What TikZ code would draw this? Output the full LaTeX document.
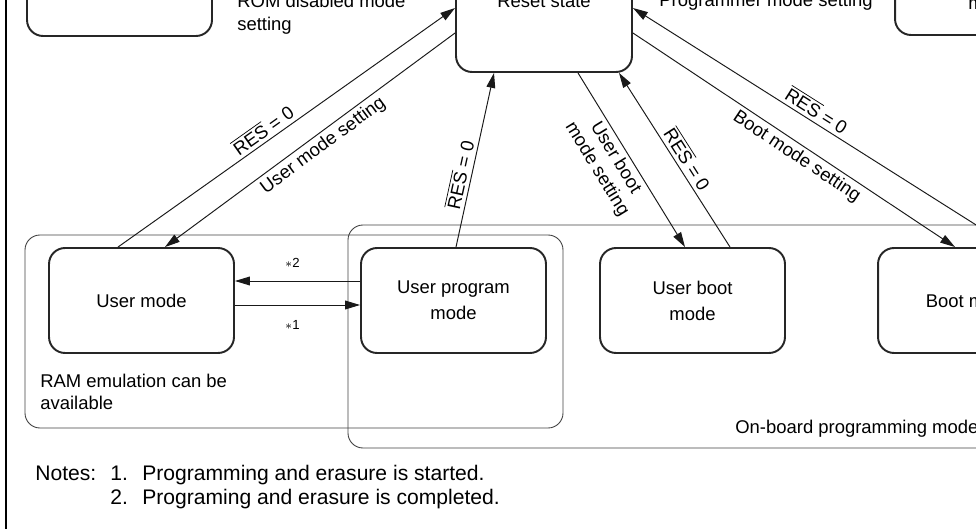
\documentclass[tikz,border=0pt]{standalone}
\usepackage{fontspec}
\setmainfont{Liberation Sans}
\usetikzlibrary{positioning,calc,arrows.meta}

\newcommand{\resz}{$\overline{\mbox{RES}}$ = 0}

\begin{document}
\begin{tikzpicture}[x=0.02cm,y=0.02cm,font=\fontsize{10.5}{12.6}\selectfont]

%--------------------------------------------------
% STYLES
%--------------------------------------------------

\tikzset{
modebox/.style={
draw=black!85,
line width=1.1pt,
rounded corners=0.32cm,
minimum width=3.7cm,
minimum height=2.1cm,
align=center,
inner sep=0pt,
font=\fontsize{10.5}{14.8}\selectfont
},
groupbox/.style={
draw=black!75,
line width=0.5pt,
rounded corners=0.3cm
},
modearrow/.style={
draw=black!90,
line width=0.55pt,
-{Triangle[length=8.5pt,width=5pt]}
},
note/.style={
anchor=base west,
inner sep=0pt
},
notetext/.style={
note,
font=\fontsize{12}{14}\selectfont
},
edgetext/.style={
sloped,
inner sep=2pt
},
startext/.style={
font=\fontsize{7.5}{9}\selectfont
}
}

\useasboundingbox (0,0) rectangle (976,528);
\clip (0,0) rectangle (976,528);

%--------------------------------------------------
% FRAME AND GROUPS
%--------------------------------------------------

\draw[line width=1.7pt] (6,538)--(6,-12);

\draw[groupbox] (25,293) rectangle (563,100);
\draw[groupbox] (348,303) rectangle (1100,80);

%--------------------------------------------------
% MODES
%--------------------------------------------------

\node[modebox] (romdis) at (119.5,544.5) {};
\node[modebox,minimum width=3.52cm] (reset) at (544,508.5) {};
\node[modebox] (progm) at (987.5,545.5) {};

\node[modebox] (umode) at (141.5,227.5) {User mode};
\node[modebox] (upmode) at (453.5,227.5) {User program\\mode};
\node[modebox] (ubmode) at (692.5,227.5) {User boot\\mode};
\node[modebox] (bmode) at (970.5,227.5) {Boot mode};

\node[anchor=base,inner sep=0pt] (resetlbl) at (544,520) {Reset state};
\node[note] (progmlbl) at (968,518) {mode};

%--------------------------------------------------
% TEXTS
%--------------------------------------------------

\node[note] (romtxt) at (237,520) {ROM disabled mode};
\node[note] (romtxtb) at (237,497) {setting};
\node[anchor=base east,inner sep=0pt] (progtxt) at (873,521) {Programmer mode setting};

\node[note] (ramtxt) at (40,141) {RAM emulation can be};
\node[note] (ramtxtb) at (40,119) {available};
\node[note] (obtxt) at (735,95) {On-board programming mode};

\node[notetext] (notes) at (35,48) {Notes:};
\node[notetext] (notea) at (110,48) {1.};
\node[notetext] (noteatxt) at (142,48) {Programming and erasure is started.};
\node[notetext] (noteb) at (110,24) {2.};
\node[notetext] (notebtxt) at (142,24) {Programing and erasure is completed.};

%--------------------------------------------------
% TRANSITIONS
%--------------------------------------------------

\draw[modearrow] ($(umode.north)+(-23.5,0)$) -- ($(reset.west)+(0,11.5)$)
node[edgetext,above,pos=0.45] {\resz};
\draw[modearrow] ($(reset.west)+(0,-13.5)$) -- ($(umode.north)+(23.5,0)$)
node[edgetext,below,pos=0.48] {User mode setting};

\draw[modearrow] ($(upmode.north)+(2.5,0)$) -- ($(reset.south)+(-50,0)$)
node[edgetext,above,pos=0.40] {\resz};

\draw[modearrow] ($(reset.south)+(34,0)$) -- ($(ubmode.north)+(-7.5,0)$)
node[edgetext,below,pos=0.45,align=center,font=\fontsize{10.5}{12.4}\selectfont] {User boot\\mode setting};
\draw[modearrow] ($(ubmode.north)+(37.5,0)$) -- ($(reset.south)+(75,0)$)
node[edgetext,above,pos=0.47] {\resz};

\draw[modearrow] ($(bmode.north)+(40.5,0)$) -- ($(reset.east)+(0,11.5)$)
node[edgetext,above,pos=0.53] {\resz};
\draw[modearrow] ($(reset.east)+(0,-13.5)$) -- ($(bmode.north)+(-15.5,0)$)
node[edgetext,below,pos=0.53] {Boot mode setting};

\draw[modearrow] ($(upmode.west)+(0,19.5)$) -- ($(umode.east)+(0,19.5)$)
node[startext,above=4pt,pos=0.54] (stara) {$\ast$2};
\draw[modearrow] ($(umode.east)+(0,-4.5)$) -- ($(upmode.west)+(0,-4.5)$)
node[startext,below=5pt,pos=0.46] (starb) {$\ast$1};

\end{tikzpicture}
\end{document}
